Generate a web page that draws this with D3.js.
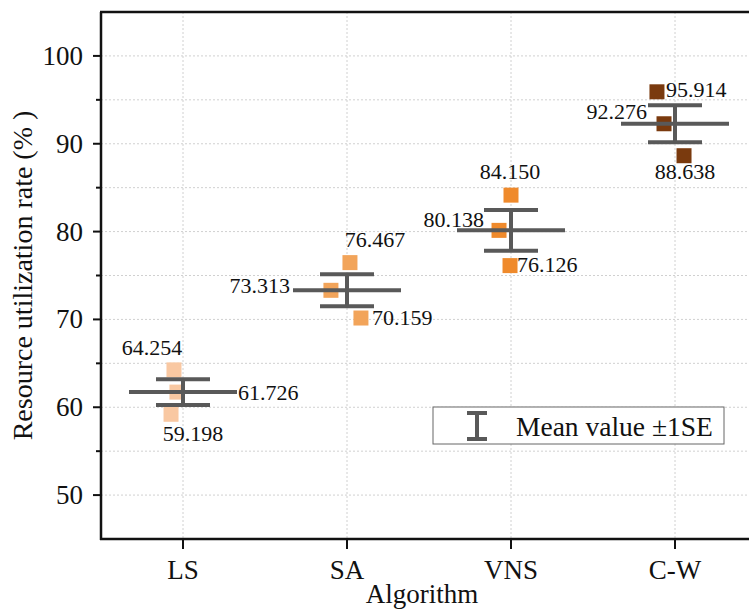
<!DOCTYPE html>
<html><head><meta charset="utf-8">
<script src="https://cdn.jsdelivr.net/npm/d3@7"></script>
<style>body{margin:0;background:#fff}svg{display:block}text{font-family:"Liberation Serif","Times New Roman",serif;fill:#111}</style>
</head><body><svg id="c" width="749" height="610"></svg>
<script>
const categories = ["LS","SA","VNS","C-W"];
const highValues = [64.254, 76.467, 84.150, 95.914];
const meanValues = [61.726, 73.313, 80.138, 92.276];
const lowValues  = [59.198, 70.159, 76.126, 88.638];
const seValues   = [1.46, 1.82, 2.32, 2.10];
const colors     = ["#f9c8a2", "#f2a45a", "#ef8a2c", "#7a3a0e"];
// horizontal jitter of the points (category units): [high, mean, low]
const jitter = [[-0.055,-0.037,-0.073],[0.018,-0.098,0.085],[0,-0.073,-0.006],[-0.11,-0.067,0.055]];
const yTicks = [50,60,70,80,90,100];
const yMinor = [55,65,75,85,95];

const svg = d3.select("#c");
const L=101, T=12, B=539;
const x = d3.scaleLinear().domain([0.5,4.5]).range([L, L+4*164]);
const y = d3.scaleLinear().domain([45,105]).range([B, T]);
const xc = i => x(i+1);

// grid
const g = svg.append("g");
g.selectAll(".gy").data(d3.range(50,101,5)).join("line")
 .attr("x1",L).attr("x2",749).attr("y1",d=>y(d)).attr("y2",d=>y(d))
 .attr("stroke","#d0d0d0").attr("stroke-width",1).attr("stroke-dasharray","2,2");
g.selectAll(".gx").data(categories).join("line")
 .attr("x1",(d,i)=>xc(i)).attr("x2",(d,i)=>xc(i)).attr("y1",T).attr("y2",B)
 .attr("stroke","#d0d0d0").attr("stroke-width",1).attr("stroke-dasharray","2,2");

// points
const pts = [];
categories.forEach((c,i)=>{
  [[highValues[i],0],[meanValues[i],1],[lowValues[i],2]].forEach(([v,k])=>{
    pts.push({i,k,v,cx:x(i+1+jitter[i][k]),cy:y(v)});
  });
});
const S=15;
svg.append("g").selectAll("rect").data(pts).join("rect")
 .attr("x",d=>d.cx-S/2).attr("y",d=>d.cy-S/2).attr("width",S).attr("height",S)
 .attr("fill",d=>colors[d.i]);

// error bars
const eb = svg.append("g").attr("stroke","#595959").attr("stroke-width",4).attr("fill","none");
categories.forEach((c,i)=>{
  const cx=xc(i), m=meanValues[i], se=seValues[i];
  eb.append("line").attr("x1",cx-54).attr("x2",cx+54).attr("y1",y(m)).attr("y2",y(m));
  eb.append("line").attr("x1",cx-27).attr("x2",cx+27).attr("y1",y(m+se)).attr("y2",y(m+se));
  eb.append("line").attr("x1",cx-27).attr("x2",cx+27).attr("y1",y(m-se)).attr("y2",y(m-se));
  eb.append("line").attr("x1",cx).attr("x2",cx).attr("y1",y(m+se)).attr("y2",y(m-se));
});

// labels: [anchor, dx, dy] relative to point centre
const labelPos = [
 [["middle",-22,-15],["start",61,8],["middle",22,27]],
 [["middle",25,-16],["end",-41,3],["start",11,7]],
 [["middle",-1,-16],["end",-15,-3],["start",7,6]],
 [["start",9,5],["end",-17,-5],["middle",1,23]]
];
svg.append("g").selectAll("text").data(pts).join("text")
 .attr("x",d=>d.cx+labelPos[d.i][d.k][1]).attr("y",d=>d.cy+labelPos[d.i][d.k][2])
 .attr("text-anchor",d=>labelPos[d.i][d.k][0])
 .attr("font-size",22).text(d=>d.v.toFixed(3));

// axes
const ax = svg.append("g").attr("stroke","#111").attr("fill","none");
ax.append("line").attr("x1",L).attr("x2",L).attr("y1",T).attr("y2",B+1).attr("stroke-width",2.5);
ax.append("line").attr("x1",L-1).attr("x2",749).attr("y1",B).attr("y2",B).attr("stroke-width",2.5);
ax.append("line").attr("x1",L-1).attr("x2",749).attr("y1",T).attr("y2",T).attr("stroke-width",2.5);
ax.selectAll(".yt").data(yTicks).join("line").attr("x1",L-8).attr("x2",L).attr("y1",d=>y(d)).attr("y2",d=>y(d)).attr("stroke-width",2);
ax.selectAll(".ym").data(yMinor).join("line").attr("x1",L-5).attr("x2",L).attr("y1",d=>y(d)).attr("y2",d=>y(d)).attr("stroke-width",2);
ax.selectAll(".xt").data(categories).join("line").attr("x1",(d,i)=>xc(i)).attr("x2",(d,i)=>xc(i)).attr("y1",B).attr("y2",B+10).attr("stroke-width",2);

svg.append("g").selectAll("text").data(yTicks).join("text")
 .attr("x",L-18).attr("y",d=>y(d)+9).attr("text-anchor","end").attr("font-size",27).text(d=>d);
svg.append("g").selectAll("text").data(categories).join("text")
 .attr("x",(d,i)=>xc(i)).attr("y",579).attr("text-anchor","middle").attr("font-size",27).text(d=>d);

svg.append("text").attr("x",422).attr("y",603).attr("text-anchor","middle").attr("font-size",27).text("Algorithm");
svg.append("text").attr("transform","translate(32,"+((T+B)/2)+") rotate(-90)").attr("text-anchor","middle")
 .attr("font-size",28).text("Resource utilization rate (% )");

// legend
const lg = svg.append("g");
lg.append("rect").attr("x",433).attr("y",407).attr("width",291).attr("height",37).attr("fill","#fff").attr("stroke","#666").attr("stroke-width",1);
const lx=477;
lg.append("line").attr("x1",lx).attr("x2",lx).attr("y1",413).attr("y2",439).attr("stroke","#595959").attr("stroke-width",4);
lg.append("line").attr("x1",lx-10).attr("x2",lx+10).attr("y1",413).attr("y2",413).attr("stroke","#595959").attr("stroke-width",4);
lg.append("line").attr("x1",lx-10).attr("x2",lx+10).attr("y1",439).attr("y2",439).attr("stroke","#595959").attr("stroke-width",4);
lg.append("text").attr("x",516).attr("y",436).attr("font-size",27.5).text("Mean value \u00b11SE");
</script></body></html>
